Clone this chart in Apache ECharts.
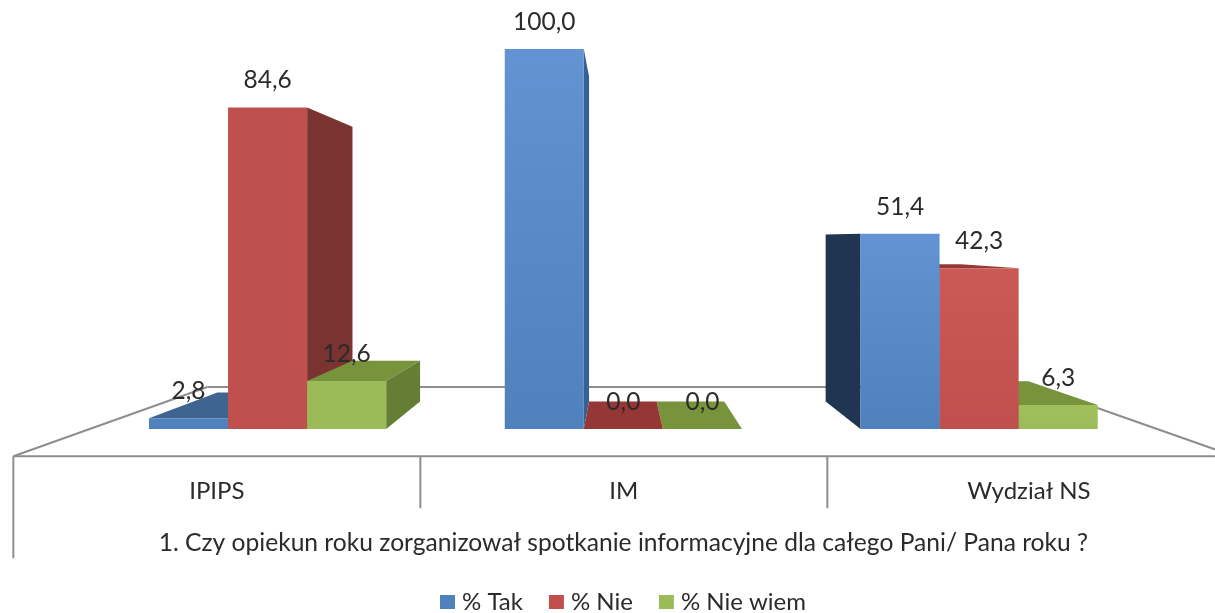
<!DOCTYPE html>
<html>
<head>
<meta charset="utf-8">
<style>html,body{margin:0;padding:0;background:#fff}#c{width:1215px;height:613px;filter:blur(0.45px)}</style>
<script src="https://cdn.jsdelivr.net/npm/echarts@6/dist/echarts.min.js"></script>
</head>
<body>
<div id="c"></div>
<script>
const categories = ['IPIPS', 'IM', 'Wydział NS'];
const seriesNames = ['% Tak', '% Nie', '% Nie wiem'];
const takValues = [2.8, 100.0, 51.4];
const nieValues = [84.6, 0.0, 42.3];
const nieWiemValues = [12.6, 0.0, 6.3];
const axisTitle = '1. Czy opiekun roku zorganizował spotkanie informacyjne dla całego Pani/ Pana roku ?';

const FONT = 'Lato, "Open Sans", sans-serif';
const TEXT = '#2b2b2b';
const LINE = '#8e8e8e';
const VP = [620, 240];
const BAR_K = 0.855, BACK_K = 0.778, FRONT_K = 1.144;
const project = (p, k) => [VP[0] + (p[0] - VP[0]) * k, VP[1] + (p[1] - VP[1]) * k];

const palettes = [
  {legend: '#4f81bd', light: '#6293d2', dark: '#4f81bd', top: '#3f6490', right: '#376092', left: '#1f3552'},
  {legend: '#c0504d', light: '#cb5956', dark: '#c0504d', top: '#953735', right: '#7a3331', left: '#632523'},
  {legend: '#9bbb59', light: '#9fc05b', dark: '#9bbb59', top: '#77933c', right: '#647f34', left: '#4f6228'}
];

function barRenderer(seriesIndex) {
  const pal = palettes[seriesIndex];
  return function (params, api) {
    const cat = api.value(0), val = api.value(1);
    const top = api.coord([cat, val]), base = api.coord([cat, 0]);
    const band = api.size([1, 0])[0];
    const w = band * 2 / 9;
    const x0 = top[0] + (seriesIndex - 1.5) * w, x1 = x0 + w;
    const y1 = top[1], y0 = base[1];
    const z2 = Math.round(1000 - Math.abs((x0 + x1) / 2 - VP[0]));
    const poly = (points, fill) => ({type: 'polygon', z2, shape: {points}, style: {fill}, silent: true});
    const children = [];
    const tl = project([x0, y1], BAR_K), tr = project([x1, y1], BAR_K);
    const bl = project([x0, y0], BAR_K), br = project([x1, y0], BAR_K);
    if (y1 > VP[1]) children.push(poly([[x0, y1], [x1, y1], tr, tl], pal.top));
    if (x1 < VP[0] && y0 > y1) children.push(poly([[x1, y1], [x1, y0], br, tr], pal.right));
    if (x0 > VP[0] && y0 > y1) children.push(poly([[x0, y1], [x0, y0], bl, tl], pal.left));
    if (y0 > y1) {
      const lit = cat === 0 ? pal.dark : pal.light;
      children.push(poly([[x0, y1], [x1, y1], [x1, y0], [x0, y0]],
        new echarts.graphic.LinearGradient(0, 0, 0, 1, [
          {offset: 0, color: lit}, {offset: 1, color: pal.dark}
        ])));
    }
    children.push({
      type: 'text', z2: 5000, silent: true,
      style: {
        x: (x0 + x1) / 2, y: y1 - 27,
        text: val.toFixed(1).replace('.', ','),
        font: '24.5px ' + FONT, fill: TEXT, align: 'center', verticalAlign: 'middle'
      }
    });
    return {type: 'group', children};
  };
}

function floorRenderer(params, api) {
  const a = api.coord([0, 0]), band = api.size([1, 0])[0];
  const y = a[1];
  const edge = i => a[0] - band / 2 + i * band;
  const line = (p, q) => ({
    type: 'line', silent: true, z2: 1,
    shape: {x1: p[0], y1: p[1], x2: q[0], y2: q[1]},
    style: {stroke: LINE, lineWidth: 2}
  });
  const n = categories.length;
  const fl = project([edge(0), y], FRONT_K), fr = project([edge(n), y], FRONT_K);
  const bl = project([edge(0), y], BACK_K), br = project([edge(n), y], BACK_K);
  const kids = [line(fl, bl), line(bl, br), line(br, fr), line(fl, fr), line(fl, [fl[0], fl[1] + 102])];
  for (let i = 1; i < n; i++) {
    const p = project([edge(i), y], FRONT_K);
    kids.push(line(p, [p[0], p[1] + 52]));
  }
  categories.forEach((c, i) => {
    const p = project([edge(i) + band / 2, y], FRONT_K);
    kids.push({
      type: 'text', silent: true, z2: 5,
      style: {x: p[0] - (i === n - 1 ? 2 : 0), y: p[1] + 35, text: c, font: '24px ' + FONT, fill: TEXT, align: 'center', verticalAlign: 'middle'}
    });
  });
  return {type: 'group', children: kids};
}

const chart = echarts.init(document.getElementById('c'), null, {renderer: 'canvas'});
const allValues = [takValues, nieValues, nieWiemValues];
chart.setOption({
  animation: false,
  backgroundColor: '#ffffff',
  grid: {left: 89.7, right: 58, top: 49, bottom: 184},
  xAxis: {
    type: 'category', data: categories,
    axisLine: {show: false}, axisTick: {show: false}, axisLabel: {show: false}, splitLine: {show: false},
    name: axisTitle, nameLocation: 'middle', nameGap: 102,
    nameTextStyle: {fontFamily: FONT, fontSize: 24.6, color: TEXT}
  },
  yAxis: {type: 'value', min: 0, max: 100, show: false},
  legend: {
    data: seriesNames, left: 435, top: 585, itemWidth: 15, itemHeight: 14, itemGap: 26, icon: 'rect',
    textStyle: {fontFamily: FONT, fontSize: 24, color: TEXT, padding: [0, 0, 0, 2]}
  },
  series: [
    {type: 'custom', name: 'floor', coordinateSystem: 'cartesian2d', z: 1, silent: true, data: [[0, 0]], renderItem: floorRenderer, encode: {x: 0, y: 1}}
  ].concat(seriesNames.map((name, s) => ({
    type: 'custom', name, coordinateSystem: 'cartesian2d', z: 2, clip: false,
    itemStyle: {color: palettes[s].legend},
    data: allValues[s].map((v, i) => [i, v]),
    encode: {x: 0, y: 1},
    renderItem: barRenderer(s)
  })))
});
</script>
</body>
</html>
